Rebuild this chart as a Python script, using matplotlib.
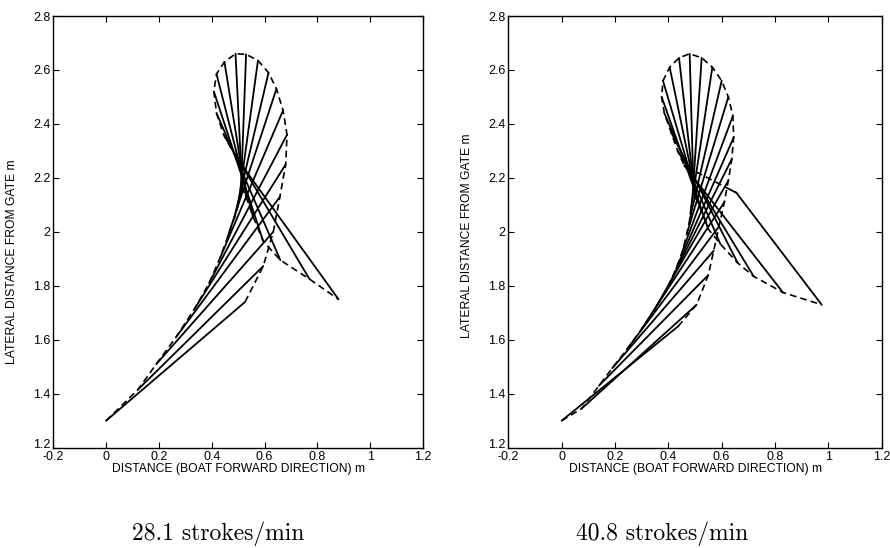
import matplotlib
matplotlib.use('Agg')
import matplotlib.pyplot as plt

# %% Données (m)

# 28.1 coups/min : extrémité intérieure et extrémité de la pale
g_inner_x = [0.00, 0.12, 0.19, 0.265, 0.335, 0.39, 0.43, 0.46, 0.485, 0.50, 0.51, 0.515,
             0.53, 0.555, 0.595, 0.66, 0.77, 0.88]
g_inner_y = [1.30, 1.415, 1.51, 1.61, 1.715, 1.81, 1.90, 1.98, 2.05, 2.10, 2.14, 2.16,
             2.13, 2.06, 1.965, 1.895, 1.825, 1.75]
g_tip_x = [0.526, 0.595, 0.633, 0.658, 0.68, 0.685, 0.67, 0.645, 0.615, 0.575, 0.53, 0.49,
           0.448, 0.418, 0.408, 0.418, 0.445, 0.49]
g_tip_y = [1.74, 1.873, 2.00, 2.13, 2.25, 2.36, 2.45, 2.53, 2.59, 2.635, 2.658, 2.66,
           2.63, 2.585, 2.52, 2.44, 2.36, 2.28]

# 40.8 coups/min
d_inner_x = [0.00, 0.075, 0.14, 0.19, 0.245, 0.30, 0.35, 0.395, 0.43, 0.455, 0.47, 0.48,
             0.485, 0.49, 0.495, 0.50, 0.51, 0.525, 0.55, 0.595, 0.66, 0.72, 0.83, 0.975]
d_inner_y = [1.30, 1.345, 1.43, 1.495, 1.565, 1.64, 1.715, 1.79, 1.865, 1.935, 1.995, 2.045,
             2.09, 2.12, 2.135, 2.13, 2.11, 2.075, 2.01, 1.955, 1.885, 1.835, 1.775, 1.73]
d_tip_x = [0.437, 0.506, 0.55, 0.57, 0.59, 0.61, 0.625, 0.638, 0.645, 0.642, 0.625, 0.60,
           0.565, 0.525, 0.48, 0.44, 0.405, 0.38, 0.375, 0.385, 0.41, 0.435, 0.46, 0.655]
d_tip_y = [1.65, 1.73, 1.84, 1.93, 2.02, 2.11, 2.19, 2.27, 2.35, 2.43, 2.50, 2.56,
           2.61, 2.645, 2.66, 2.645, 2.61, 2.56, 2.50, 2.44, 2.37, 2.30, 2.245, 2.145]
d_hook = (0.635, 2.155)

xticks = [-0.2, 0, 0.2, 0.4, 0.6, 0.8, 1, 1.2]
xticklabels = ['-0.2', '0', '0.2', '0.4', '0.6', '0.8', '1', '1.2']
yticks = [1.2, 1.4, 1.6, 1.8, 2, 2.2, 2.4, 2.6, 2.8]
yticklabels = ['1.2', '1.4', '1.6', '1.8', '2', '2.2', '2.4', '2.6', '2.8']

titres = ['28.1 strokes/min', '40.8 strokes/min']

# %% Figure

fig = plt.figure(figsize=(8.9, 5.48), dpi=100)
ax1 = fig.add_axes([0.0599, 0.183, 0.4154, 0.7878])
ax2 = fig.add_axes([0.5711, 0.183, 0.4196, 0.7878])

sans = ['Liberation Sans', 'DejaVu Sans']
serif = ['cmr10', 'DejaVu Serif']


def trace(ax, ix, iy, tx, ty):
    for a, b, c, d in zip(ix, iy, tx, ty):
        ax.plot([a, c], [b, d], color='black', lw=1.3, solid_capstyle='round')
    ax.plot(ix, iy, color='black', lw=1.2, dashes=(4, 2.5))
    ax.plot(tx, ty, color='black', lw=1.2, dashes=(4, 2.5))


trace(ax1, g_inner_x, g_inner_y, g_tip_x, g_tip_y)
trace(ax2, d_inner_x, d_inner_y, d_tip_x, d_tip_y)
ax2.plot([d_tip_x[-1], d_hook[0]], [d_tip_y[-1], d_hook[1]], color='black', lw=1.3)

for ax, titre, ylab_y, tx in zip([ax1, ax2], titres, [0.43, 0.49], [0.4455, 0.4116]):
    ax.set_xlim(-0.2, 1.2)
    ax.set_ylim(1.2, 2.8)
    ax.set_xticks(xticks)
    ax.set_xticklabels(xticklabels, fontfamily=sans, fontsize=9)
    ax.set_yticks(yticks)
    ax.set_yticklabels(yticklabels, fontfamily=sans, fontsize=9)
    ax.get_yticklabels()[0].set_va('baseline')
    ax.tick_params(direction='in', length=4, width=0.8, top=True, right=True, pad=2)
    ax.tick_params(axis='x', pad=2.5)
    for s in ax.spines.values():
        s.set_linewidth(1.0)
    ax.set_xlabel('DISTANCE (BOAT FORWARD DIRECTION) m', fontfamily=sans, fontsize=8.7, labelpad=0)
    ax.set_ylabel('LATERAL DISTANCE FROM GATE m', fontfamily=sans, fontsize=8.7)
    ax.yaxis.set_label_coords(-0.095, ylab_y)
    ax.text(tx, -0.2, titre, transform=ax.transAxes, ha='center', va='center',
            fontfamily=serif, fontsize=17)

plt.savefig('out.png', dpi=100)
